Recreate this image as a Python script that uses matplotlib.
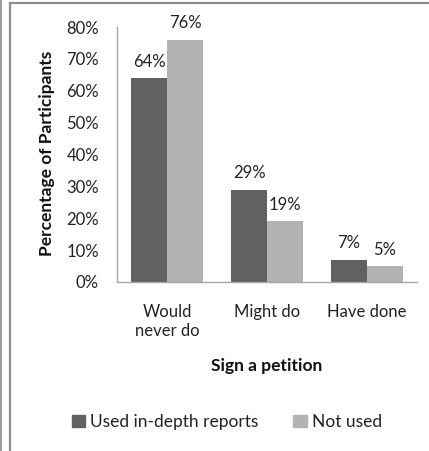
import matplotlib
matplotlib.use("Agg")
import matplotlib.pyplot as plt
from matplotlib.patches import Rectangle
from matplotlib.lines import Line2D
import numpy as np

categories = ["Would\nnever do", "Might do", "Have done"]
series_names = ["Used in-depth reports", "Not used"]
used_reports = [64, 29, 7]
not_used = [76, 19, 5]
y_ticks = [0, 10, 20, 30, 40, 50, 60, 70, 80]

plt.rcParams['font.family'] = ['Lato', 'DejaVu Sans']

W, H = 429, 451
FS = 12
fig = plt.figure(figsize=(W / 100, H / 100), dpi=100)
fig.patch.set_facecolor('white')

# outer frame lines
fig.add_artist(Line2D([0.5 / W, 0.5 / W], [0, 1], transform=fig.transFigure,
                      color='#8c8c8c', lw=1.2))
fig.add_artist(Line2D([9.5 / W, 9.5 / W], [0, 1 - 2.5 / H], transform=fig.transFigure,
                      color='#8c8c8c', lw=1.6))
fig.add_artist(Line2D([9.5 / W, 1], [1 - 2.5 / H, 1 - 2.5 / H], transform=fig.transFigure,
                      color='#8c8c8c', lw=1.6))

ax_left, ax_right = 117, 417
ax_top, ax_bottom = 27, 282
ax = fig.add_axes([ax_left / W, 1 - ax_bottom / H,
                   (ax_right - ax_left) / W, (ax_bottom - ax_top) / H])

x = np.arange(len(categories))
bw = 0.36
dark = '#616161'
light = '#b3b3b3'
b1 = ax.bar(x - bw / 2, used_reports, bw, color=dark, label=series_names[0])
b2 = ax.bar(x + bw / 2, not_used, bw, color=light, label=series_names[1])

for rects, vals in ((b1, used_reports), (b2, not_used)):
    for r, v in zip(rects, vals):
        ax.text(r.get_x() + r.get_width() / 2, v + 2.6, f"{v}%",
                ha='center', va='bottom', fontsize=FS, color='#222222')

ax.set_xlim(-0.5, 2.5)
ax.set_ylim(0, 80)
ax.set_yticks(y_ticks)
ax.set_yticklabels([f"{t}%" for t in y_ticks], fontsize=FS, color='#222222')
ax.set_xticks(x)
ax.set_xticklabels(categories, fontsize=FS, color='#222222', linespacing=1.25)
ax.tick_params(axis='both', length=0)
ax.tick_params(axis='y', pad=13)
ax.tick_params(axis='x', pad=16)

for s in ('top', 'right'):
    ax.spines[s].set_visible(False)
for s in ('left', 'bottom'):
    ax.spines[s].set_color('#a6a6a6')
    ax.spines[s].set_linewidth(1.0)

fig.text(47 / W, 1 - 153 / H, "Percentage of Participants", rotation=90,
         ha='center', va='center', fontsize=FS + 0.5, fontweight='bold', color='#111111')
fig.text(267 / W, 1 - 366 / H, "Sign a petition", ha='center', va='center',
         fontsize=FS + 0.5, fontweight='bold', color='#111111')

handles = [Rectangle((0, 0), 1, 1, color=dark), Rectangle((0, 0), 1, 1, color=light)]
fig.legend(handles, series_names, loc='center', bbox_to_anchor=(227 / W, 1 - 422 / H),
           ncol=2, frameon=False, fontsize=FS + 0.5, handlelength=0.75, handleheight=0.75,
           handletextpad=0.3, columnspacing=2.0, labelcolor='#222222')

fig.savefig('out.png', dpi=100, facecolor='white')
